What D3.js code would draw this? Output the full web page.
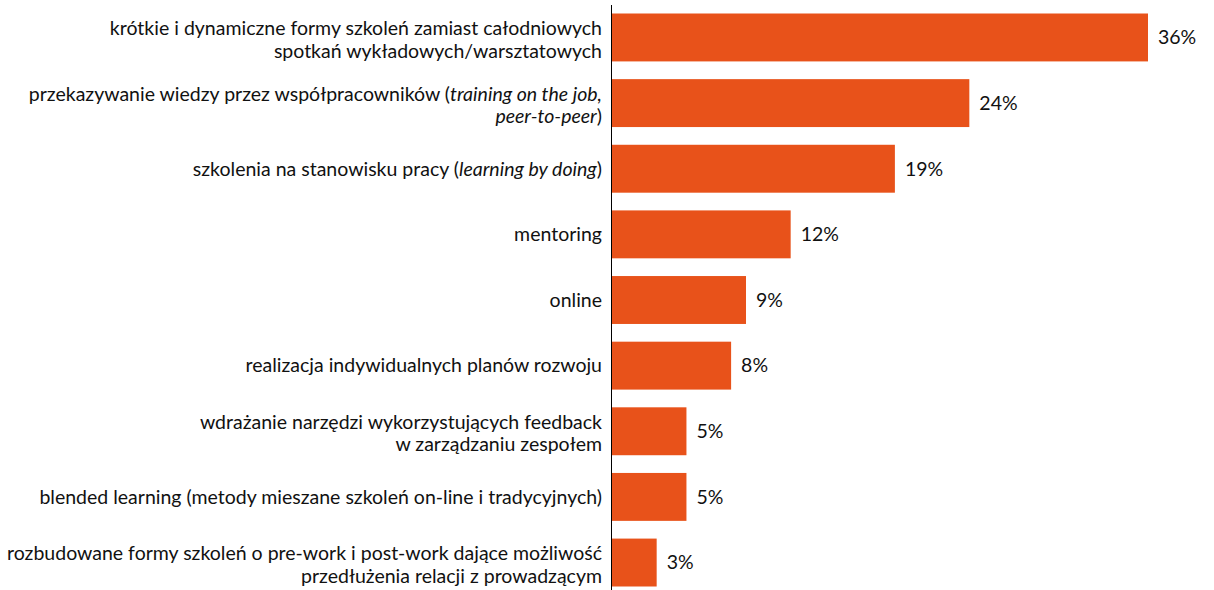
<!DOCTYPE html>
<html>
<head>
<meta charset="utf-8">
<script src="https://cdn.jsdelivr.net/npm/d3@7"></script>
<style>
  html, body { margin: 0; padding: 0; background: #fff; }
  svg { display: block; }
  text { font-family: Lato, "Open Sans", sans-serif; fill: #111; }
</style>
</head>
<body>
<svg id="chart" width="1214" height="590"></svg>
<script>
// Category labels: "\n" starts a new line, text between underscores is italic
const categories = [
  "krótkie i dynamiczne formy szkoleń zamiast całodniowych\nspotkań wykładowych/warsztatowych",
  "przekazywanie wiedzy przez współpracowników (_training on the job,_\n_peer-to-peer_)",
  "szkolenia na stanowisku pracy (_learning by doing_)",
  "mentoring",
  "online",
  "realizacja indywidualnych planów rozwoju",
  "wdrażanie narzędzi wykorzystujących feedback\nw zarządzaniu zespołem",
  "blended learning (metody mieszane szkoleń on-line i tradycyjnych)",
  "rozbudowane formy szkoleń o pre-work i post-work dające możliwość\nprzedłużenia relacji z prowadzącym"
];
const values = [36, 24, 19, 12, 9, 8, 5, 5, 3];
const valueLabels = ["36%", "24%", "19%", "12%", "9%", "8%", "5%", "5%", "3%"];

const svg = d3.select("#chart");
const axisX = 612;

const x = d3.scaleLinear().domain([0, 36]).range([axisX, 1148]);
const y = d3.scaleBand()
  .domain(d3.range(categories.length))
  .range([3, 597])
  .paddingInner(0.27)
  .paddingOuter(0.16);

// Bars
svg.append("g")
  .selectAll("rect")
  .data(values)
  .join("rect")
  .attr("x", x(0))
  .attr("y", (d, i) => y(i))
  .attr("width", d => x(d) - x(0))
  .attr("height", y.bandwidth())
  .attr("fill", "#E8521A");

// Value labels
svg.append("g")
  .selectAll("text")
  .data(values)
  .join("text")
  .attr("x", d => x(d) + 10)
  .attr("y", (d, i) => y(i) + y.bandwidth() / 2)
  .attr("dy", "0.35em")
  .attr("font-size", 19.5)
  .text((d, i) => valueLabels[i]);

// Vertical axis line
svg.append("line")
  .attr("x1", axisX - 0.5).attr("x2", axisX - 0.5)
  .attr("y1", 5).attr("y2", 590)
  .attr("stroke", "#000")
  .attr("stroke-width", 1);

// Category labels, right-aligned against the axis
const lineH = 22.5;
const labels = svg.append("g");
categories.forEach((c, i) => {
  const lines = c.split("\n");
  const cy = y(i) + y.bandwidth() / 2 + (lines.length > 1 ? 2 : 0);
  const t = labels.append("text")
    .attr("text-anchor", "end")
    .attr("font-size", 19.5);
  lines.forEach((ln, j) => {
    const yy = cy + (j - (lines.length - 1) / 2) * lineH;
    const parts = ln.split("_");
    parts.forEach((p, k) => {
      if (!p) return;
      const ts = t.append("tspan").text(p)
        .attr("font-style", k % 2 === 1 ? "italic" : "normal");
      if (k === 0 || (k === 1 && !parts[0])) {
        ts.attr("x", 602).attr("y", yy).attr("dy", "0.35em");
      }
    });
  });
});
</script>
</body>
</html>
